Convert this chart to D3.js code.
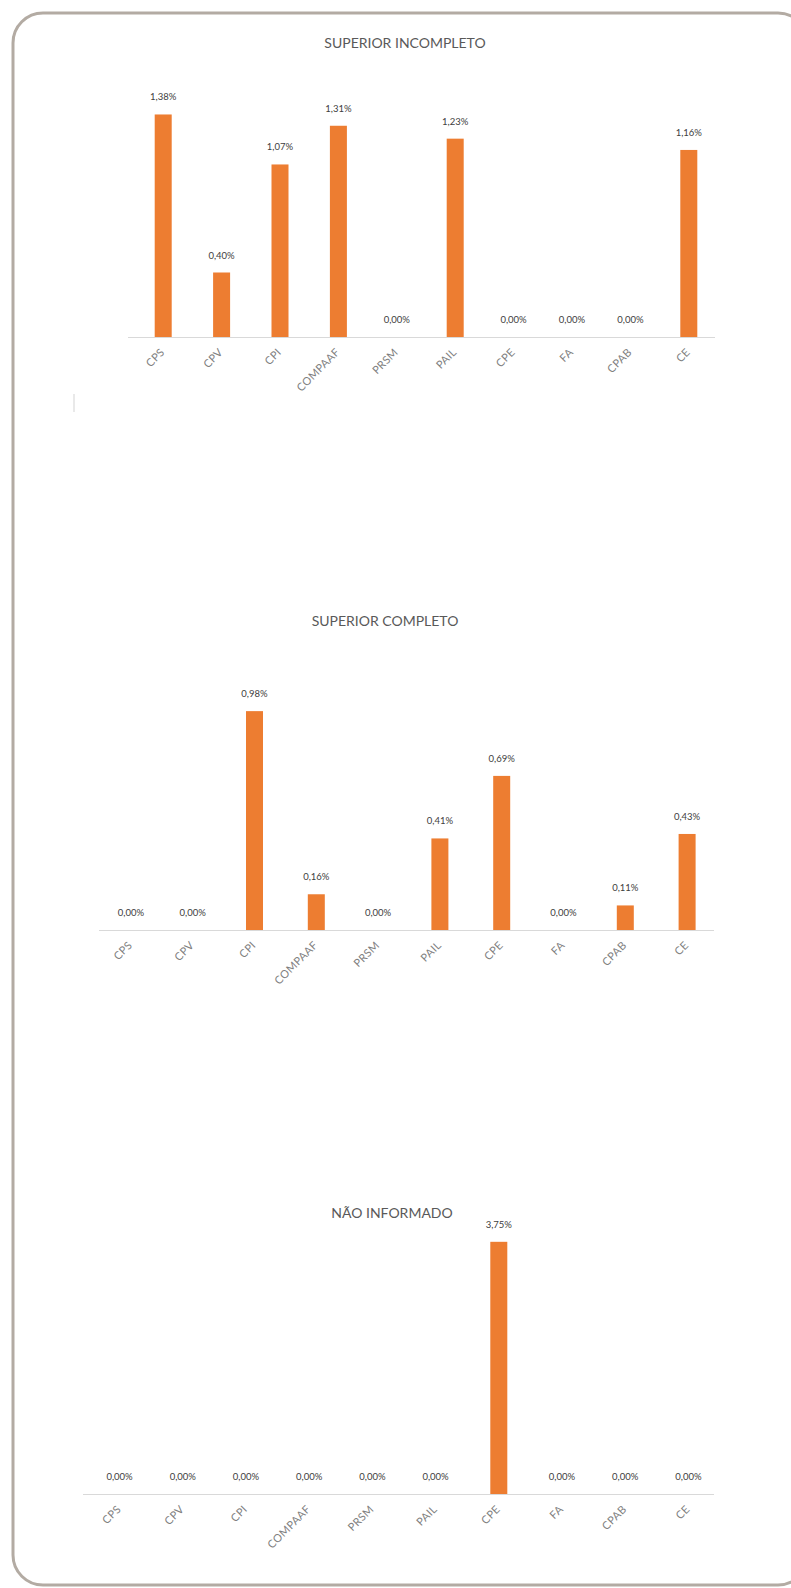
<!DOCTYPE html>
<html>
<head>
<meta charset="utf-8">
<script src="https://cdn.jsdelivr.net/npm/d3@7"></script>
<style>
  html, body { margin: 0; padding: 0; background: #ffffff; }
  svg { display: block; }
</style>
</head>
<body>
<svg id="chart" width="791" height="1588"></svg>
<script>
// ---- data ----
const categories = ["CPS", "CPV", "CPI", "COMPAAF", "PRSM", "PAIL", "CPE", "FA", "CPAB", "CE"];
const titles = ["SUPERIOR INCOMPLETO", "SUPERIOR COMPLETO", "NÃO INFORMADO"];
const superiorIncompleto = [1.38, 0.40, 1.07, 1.31, 0.00, 1.23, 0.00, 0.00, 0.00, 1.16];
const superiorCompleto   = [0.00, 0.00, 0.98, 0.16, 0.00, 0.41, 0.69, 0.00, 0.11, 0.43];
const naoInformado       = [0.00, 0.00, 0.00, 0.00, 0.00, 0.00, 3.75, 0.00, 0.00, 0.00];
const yMax = [1.6, 1.2, 4.0];

// ---- layout (positions & styles) ----
const layouts = [
  { x0: 134, x1: 718, yBase: 337, yTop: 79,   axisX0: 128, axisX1: 715, titleX: 405, titleY: 48 },
  { x0: 100, x1: 718, yBase: 930, yTop: 662,  axisX0: 99,  axisX1: 714, titleX: 385, titleY: 626 },
  { x0: 88,  x1: 720, yBase: 1494, yTop: 1225, axisX0: 83, axisX1: 714, titleX: 392, titleY: 1218 }
];
const seriesList = [superiorIncompleto, superiorCompleto, naoInformado];

const BAR = "#ED7D31";
const FONT = "Lato, 'Open Sans', sans-serif";
const svg = d3.select("#chart");

// outer rounded frame (extends past right edge, as in reference)
svg.append("rect")
  .attr("x", 13).attr("y", 13)
  .attr("width", 795).attr("height", 1572)
  .attr("rx", 30).attr("ry", 30)
  .attr("fill", "none")
  .attr("stroke", "#b3aba3")
  .attr("stroke-width", 3);

// small stray vertical mark in reference
svg.append("line")
  .attr("x1", 74).attr("x2", 74).attr("y1", 394).attr("y2", 412)
  .attr("stroke", "#e2e2e2").attr("stroke-width", 1.5);

const fmt = v => v.toFixed(2).replace(".", ",") + "%";

seriesList.forEach((values, i) => {
  const L = layouts[i];
  const g = svg.append("g");
  const x = d3.scaleBand().domain(categories).range([L.x0, L.x1]);
  const y = d3.scaleLinear().domain([0, yMax[i]]).range([L.yBase, L.yTop]);
  const data = categories.map((c, k) => ({ c, v: values[k] }));
  const bw = 17;

  // title
  g.append("text")
    .attr("x", L.titleX).attr("y", L.titleY)
    .attr("text-anchor", "middle")
    .attr("font-family", FONT)
    .attr("font-size", 14)
    .attr("fill", "#595959")
    .text(titles[i]);

  // bars
  g.selectAll("rect.bar").data(data).enter().append("rect")
    .attr("class", "bar")
    .attr("x", d => x(d.c) + x.bandwidth() / 2 - bw / 2)
    .attr("width", bw)
    .attr("y", d => y(d.v))
    .attr("height", d => y(0) - y(d.v))
    .attr("fill", BAR);

  // axis line
  g.append("line")
    .attr("x1", L.axisX0).attr("x2", L.axisX1)
    .attr("y1", L.yBase + 0.5).attr("y2", L.yBase + 0.5)
    .attr("stroke", "#d9d9d9").attr("stroke-width", 1);

  // x axis labels via d3 axis
  const axis = d3.axisBottom(x).tickSize(0).tickPadding(0);
  const ag = g.append("g").attr("transform", `translate(0,${L.yBase})`).call(axis);
  ag.select(".domain").remove();
  ag.selectAll("text")
    .attr("font-family", FONT)
    .attr("font-size", 11)
    .attr("fill", "#7f7f7f")
    .attr("letter-spacing", 0.3)
    .attr("text-anchor", "end")
    .attr("dy", null)
    .attr("y", 0)
    .attr("transform", "translate(2,16) rotate(-45)");

  // data labels
  g.selectAll("text.lbl").data(data).enter().append("text")
    .attr("class", "lbl")
    .attr("x", d => x(d.c) + x.bandwidth() / 2)
    .attr("y", d => y(d.v) - 14)
    .attr("text-anchor", "middle")
    .attr("font-family", FONT)
    .attr("font-size", 9.5)
    .attr("fill", "#404040")
    .text(d => fmt(d.v));
});
</script>
</body>
</html>
